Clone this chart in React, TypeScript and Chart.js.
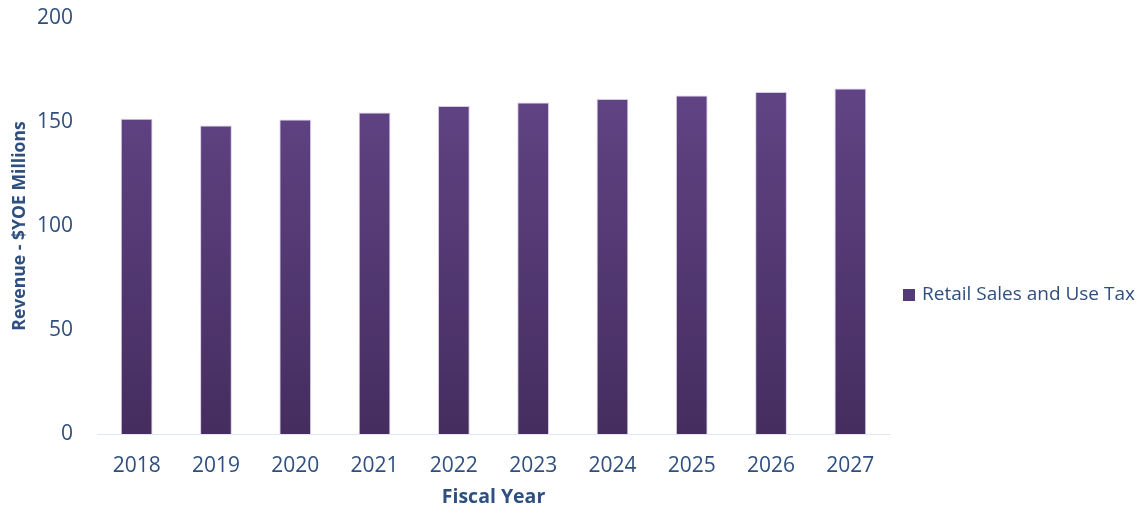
import React, { useEffect, useRef } from "react";
import { Chart, registerables } from "chart.js";

Chart.register(...registerables);

const categories = ["2018", "2019", "2020", "2021", "2022", "2023", "2024", "2025", "2026", "2027"];
const retailSalesUseTax = [151.6, 148.3, 151.2, 154.6, 157.7, 159.4, 161.1, 162.8, 164.4, 166.1];
const seriesLabel = "Retail Sales and Use Tax";
const yTicks = [0, 50, 100, 150, 200];

const TEXT = "#2e4f7f";
const FONT = "'Open Sans', 'DejaVu Sans', sans-serif";

const legendPlugin = {
  id: "customLegend",
  afterDraw(chart: any) {
    const { ctx, chartArea } = chart;
    const x = chartArea.right + 13;
    const y = 295;
    ctx.save();
    ctx.fillStyle = "#553a78";
    ctx.fillRect(x, y - 6, 12, 12);
    ctx.fillStyle = TEXT;
    ctx.font = `19px ${FONT}`;
    ctx.textBaseline = "middle";
    ctx.textAlign = "left";
    ctx.fillText(seriesLabel, x + 19, y);
    ctx.restore();
  },
};

export default function App() {
  const ref = useRef<HTMLCanvasElement | null>(null);
  useEffect(() => {
    if (!ref.current) return;
    const chart = new Chart(ref.current, {
      type: "bar",
      data: {
        labels: categories,
        datasets: [
          {
            label: seriesLabel,
            data: retailSalesUseTax,
            backgroundColor: (c: any) => {
              const area = c.chart.chartArea;
              if (!area) return "#553a78";
              const g = c.chart.ctx.createLinearGradient(0, area.top, 0, area.bottom);
              g.addColorStop(0, "#66488c");
              g.addColorStop(1, "#452d5f");
              return g;
            },
            borderColor: "rgba(160,140,190,0.45)",
            borderWidth: 1,
            categoryPercentage: 1,
            barPercentage: 0.4,
          },
        ],
      },
      options: {
        responsive: false,
        animation: false,
        layout: { padding: { top: 18, right: 249, left: 0, bottom: 0 } },
        plugins: { legend: { display: false }, tooltip: { enabled: false } },
        scales: {
          x: {
            grid: { display: false, drawTicks: false },
            border: { display: true, color: "#dfe7f2", width: 1 },
            ticks: { color: TEXT, font: { family: FONT, size: 21 }, padding: 19 },
            title: {
              display: true,
              text: "Fiscal Year",
              color: TEXT,
              font: { family: FONT, size: 19.5, weight: "bold" },
              padding: { top: 0, bottom: 5 },
            },
            afterFit: (s: any) => {
              s.height = 80;
              s.paddingLeft = 0;
              s.paddingRight = 0;
            },
          },
          y: {
            min: 0,
            max: 200,
            afterBuildTicks: (s: any) => {
              s.ticks = yTicks.map((v) => ({ value: v }));
            },
            grid: { display: false, drawTicks: false },
            border: { display: false },
            ticks: { color: TEXT, font: { family: FONT, size: 21 }, padding: 24 },
            title: {
              display: true,
              text: "Revenue - $YOE Millions",
              color: TEXT,
              font: { family: FONT, size: 17.6, weight: "bold" },
              padding: { top: 9, bottom: 0 },
            },
            afterFit: (s: any) => {
              s.width = 97;
              s.paddingTop = 0;
              s.paddingBottom = 0;
            },
          },
        },
      },
      plugins: [legendPlugin],
    });
    return () => chart.destroy();
  }, []);
  return (
    <div style={{ position: "absolute", left: 0, top: 0, width: 1139, height: 514, background: "#fff" }}>
      <canvas ref={ref} width={1139} height={514} />
    </div>
  );
}
